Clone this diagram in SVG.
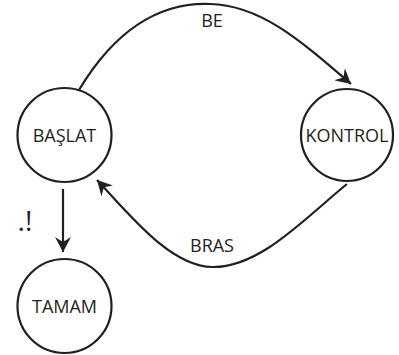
<svg xmlns="http://www.w3.org/2000/svg" width="399" height="355" viewBox="0 0 399 355">
<defs>
<style>
.node circle{fill:#fff;stroke:#231f20;stroke-width:2.2}
text{font-family:"Open Sans","Liberation Sans",sans-serif;font-size:18px;fill:#231f20;text-anchor:middle}
.edge{fill:none;stroke:#231f20;stroke-width:2.2}
</style>
<marker id="arr" viewBox="0 0 16 16" refX="15" refY="8" markerWidth="16" markerHeight="16" markerUnits="userSpaceOnUse" orient="auto">
<path d="M0,0 L15,8 L0,16 L5,8 Z" fill="#231f20"/>
</marker>
</defs>
<g id="connectors">
<path class="edge" d="M79,90 C115,30 160,2 210,4 C260,5 300,40 351,84" marker-end="url(#arr)"/>
<path class="edge" d="M347,184 C305,218 260,268 212,267 C170,266 130,215 97,180" marker-end="url(#arr)"/>
<path class="edge" d="M63,189 L63,252" marker-end="url(#arr)"/>
<text x="212" y="27">BE</text>
<text x="212" y="252">BRAS</text>
<text x="25" y="231" style="font-size:28px">.!</text>
</g>
<g id="baslat" class="node"><circle cx="64.5" cy="135" r="47"/><text x="64.5" y="142">BAŞLAT</text></g>
<g id="kontrol" class="node"><circle cx="347" cy="135" r="46"/><text x="347" y="142">KONTROL</text></g>
<g id="tamam" class="node"><circle cx="64.5" cy="306" r="47"/><text x="64.5" y="313">TAMAM</text></g>
</svg>
